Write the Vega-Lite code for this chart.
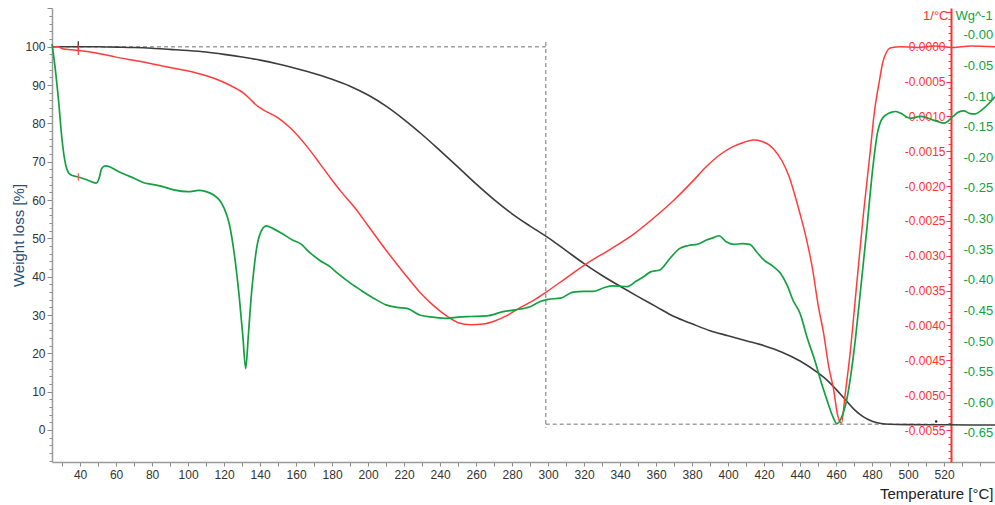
{
  "$schema": "https://vega.github.io/schema/vega-lite/v6.json",
  "width": 943,
  "height": 454,
  "autosize": {"type": "none"},
  "padding": {"left": 52, "top": 8, "right": 0, "bottom": 43},
  "background": "white",
  "config": {
    "view": {"stroke": null},
    "axis": {"grid": false, "labelFont": "Liberation Sans", "titleFont": "Liberation Sans", "labelOverlap": false, "labelFlush": false, "titleFontWeight": "normal"}
  },
  "datasets": {
    "box": [
      {"T": 24.4, "w": 100, "seg": "a"}, {"T": 298.7, "w": 100, "seg": "a"},
      {"T": 298.7, "w": 101.2, "seg": "b"}, {"T": 298.7, "w": 0.6, "seg": "b"},
      {"T": 298.7, "w": 1.5, "seg": "c"}, {"T": 515, "w": 1.5, "seg": "c"}
    ],
    "tga": [
      {"T": 24.4, "w": 100}, {"T": 30, "w": 100}, {"T": 40, "w": 100}, {"T": 50, "w": 100},
      {"T": 60, "w": 99.9}, {"T": 70, "w": 99.8}, {"T": 80, "w": 99.6}, {"T": 90, "w": 99.3},
      {"T": 100, "w": 99.0}, {"T": 110, "w": 98.6}, {"T": 120, "w": 98.0}, {"T": 130, "w": 97.3},
      {"T": 140, "w": 96.5}, {"T": 150, "w": 95.5}, {"T": 160, "w": 94.3}, {"T": 170, "w": 93.0},
      {"T": 180, "w": 91.5}, {"T": 190, "w": 89.7}, {"T": 200, "w": 87.4}, {"T": 210, "w": 84.5},
      {"T": 220, "w": 81.0}, {"T": 230, "w": 77.1}, {"T": 240, "w": 72.9}, {"T": 250, "w": 68.6},
      {"T": 260, "w": 64.2}, {"T": 270, "w": 60.1}, {"T": 280, "w": 56.4}, {"T": 290, "w": 53.2},
      {"T": 300, "w": 50.2}, {"T": 310, "w": 46.8}, {"T": 320, "w": 43.4}, {"T": 330, "w": 40.3},
      {"T": 340, "w": 37.5}, {"T": 350, "w": 34.8}, {"T": 360, "w": 32.2}, {"T": 370, "w": 29.6},
      {"T": 380, "w": 27.7}, {"T": 390, "w": 25.9}, {"T": 400, "w": 24.6}, {"T": 410, "w": 23.3},
      {"T": 420, "w": 22.0}, {"T": 430, "w": 20.3}, {"T": 440, "w": 18.0}, {"T": 450, "w": 14.9},
      {"T": 455, "w": 13.0}, {"T": 460, "w": 10.6}, {"T": 465, "w": 8.0}, {"T": 470, "w": 5.4},
      {"T": 475, "w": 3.5}, {"T": 480, "w": 2.3}, {"T": 485, "w": 1.7}, {"T": 490, "w": 1.5},
      {"T": 500, "w": 1.4}, {"T": 520, "w": 1.35}, {"T": 548.3, "w": 1.3}
    ],
    "dtg": [
      {"T": 24.4, "r": 0.0}, {"T": 28, "r": 0.0}, {"T": 30, "r": -0.00003}, {"T": 38, "r": -0.00005},
      {"T": 49, "r": -0.00009}, {"T": 60, "r": -0.00015}, {"T": 73, "r": -0.00021}, {"T": 90, "r": -0.0003},
      {"T": 105, "r": -0.00038}, {"T": 114, "r": -0.00045}, {"T": 123, "r": -0.00055}, {"T": 128, "r": -0.00062},
      {"T": 131, "r": -0.00067}, {"T": 134, "r": -0.00074}, {"T": 138, "r": -0.00084}, {"T": 142, "r": -0.00091},
      {"T": 150, "r": -0.00102}, {"T": 157, "r": -0.00117}, {"T": 166, "r": -0.00143}, {"T": 173, "r": -0.00167},
      {"T": 179, "r": -0.00188}, {"T": 185, "r": -0.00208}, {"T": 192, "r": -0.00229}, {"T": 200, "r": -0.00257},
      {"T": 210, "r": -0.00292}, {"T": 220, "r": -0.00325}, {"T": 229, "r": -0.00353}, {"T": 237, "r": -0.00373},
      {"T": 244, "r": -0.00387}, {"T": 250, "r": -0.00396}, {"T": 257, "r": -0.00399}, {"T": 264, "r": -0.00398},
      {"T": 270, "r": -0.00394}, {"T": 277, "r": -0.00386}, {"T": 284, "r": -0.00375}, {"T": 292, "r": -0.00364},
      {"T": 299, "r": -0.00352}, {"T": 310, "r": -0.00332}, {"T": 321, "r": -0.00312}, {"T": 335, "r": -0.0029},
      {"T": 347, "r": -0.0027}, {"T": 360, "r": -0.00243}, {"T": 370, "r": -0.0022}, {"T": 380, "r": -0.00194},
      {"T": 388, "r": -0.00172}, {"T": 396, "r": -0.00154}, {"T": 403, "r": -0.00143}, {"T": 409, "r": -0.00137},
      {"T": 414, "r": -0.00134}, {"T": 419, "r": -0.00136}, {"T": 425, "r": -0.00146}, {"T": 430, "r": -0.00164},
      {"T": 434, "r": -0.00187}, {"T": 437, "r": -0.00212}, {"T": 440, "r": -0.0024}, {"T": 443, "r": -0.0027},
      {"T": 447, "r": -0.0032}, {"T": 450, "r": -0.0037}, {"T": 453, "r": -0.0041}, {"T": 456, "r": -0.0046},
      {"T": 458.5, "r": -0.0049}, {"T": 461, "r": -0.0053}, {"T": 463, "r": -0.0054}, {"T": 465, "r": -0.005},
      {"T": 467.8, "r": -0.0044}, {"T": 471.5, "r": -0.0034}, {"T": 475.2, "r": -0.0024}, {"T": 479, "r": -0.0015},
      {"T": 481, "r": -0.001}, {"T": 484, "r": -0.0005}, {"T": 486, "r": -0.00022}, {"T": 488, "r": -0.00008},
      {"T": 490, "r": -0.00002}, {"T": 496, "r": 0.0}, {"T": 505, "r": -0.00001}, {"T": 515, "r": 0.00001},
      {"T": 525, "r": -0.00001}, {"T": 535, "r": 0.00001}, {"T": 548.3, "r": 0.0}
    ],
    "dsc": [
      {"T": 24.4, "g": -0.015}, {"T": 26, "g": -0.05}, {"T": 28, "g": -0.106}, {"T": 30, "g": -0.172},
      {"T": 32, "g": -0.212}, {"T": 34.5, "g": -0.228}, {"T": 39, "g": -0.232}, {"T": 44, "g": -0.237},
      {"T": 49, "g": -0.242}, {"T": 50.5, "g": -0.235}, {"T": 52, "g": -0.218}, {"T": 54, "g": -0.214},
      {"T": 57, "g": -0.216}, {"T": 60, "g": -0.221}, {"T": 65, "g": -0.228}, {"T": 70, "g": -0.234},
      {"T": 75, "g": -0.241}, {"T": 80, "g": -0.244}, {"T": 85, "g": -0.247}, {"T": 92, "g": -0.253},
      {"T": 100, "g": -0.256}, {"T": 106, "g": -0.254}, {"T": 110, "g": -0.256}, {"T": 114, "g": -0.261},
      {"T": 118, "g": -0.272}, {"T": 120, "g": -0.283}, {"T": 123, "g": -0.31}, {"T": 126, "g": -0.365},
      {"T": 128.5, "g": -0.43}, {"T": 130.5, "g": -0.495}, {"T": 132, "g": -0.545}, {"T": 133.5, "g": -0.49},
      {"T": 135, "g": -0.43}, {"T": 136.5, "g": -0.385}, {"T": 138, "g": -0.35}, {"T": 140, "g": -0.325},
      {"T": 143.5, "g": -0.312}, {"T": 147, "g": -0.316}, {"T": 152, "g": -0.324}, {"T": 158, "g": -0.335},
      {"T": 163, "g": -0.342}, {"T": 166, "g": -0.351}, {"T": 173, "g": -0.368}, {"T": 179, "g": -0.379},
      {"T": 183, "g": -0.389}, {"T": 190, "g": -0.405}, {"T": 196, "g": -0.417}, {"T": 203, "g": -0.43},
      {"T": 210, "g": -0.441}, {"T": 216, "g": -0.445}, {"T": 222, "g": -0.447}, {"T": 229, "g": -0.458},
      {"T": 236, "g": -0.461}, {"T": 244, "g": -0.463}, {"T": 250, "g": -0.461}, {"T": 257, "g": -0.46},
      {"T": 266, "g": -0.459}, {"T": 275, "g": -0.452}, {"T": 282, "g": -0.449}, {"T": 290, "g": -0.444},
      {"T": 296, "g": -0.435}, {"T": 300, "g": -0.432}, {"T": 307, "g": -0.43}, {"T": 314, "g": -0.42},
      {"T": 320, "g": -0.419}, {"T": 325, "g": -0.419}, {"T": 331, "g": -0.413}, {"T": 336, "g": -0.41},
      {"T": 344, "g": -0.411}, {"T": 349, "g": -0.402}, {"T": 353, "g": -0.395}, {"T": 357, "g": -0.387},
      {"T": 362, "g": -0.384}, {"T": 368, "g": -0.364}, {"T": 373, "g": -0.349}, {"T": 378, "g": -0.344},
      {"T": 383, "g": -0.342}, {"T": 388, "g": -0.335}, {"T": 392, "g": -0.331}, {"T": 395, "g": -0.328},
      {"T": 399, "g": -0.338}, {"T": 403, "g": -0.342}, {"T": 408, "g": -0.341}, {"T": 412, "g": -0.342},
      {"T": 416, "g": -0.355}, {"T": 420, "g": -0.368}, {"T": 425, "g": -0.378}, {"T": 429, "g": -0.389},
      {"T": 433, "g": -0.41}, {"T": 436, "g": -0.433}, {"T": 440, "g": -0.455}, {"T": 444, "g": -0.495},
      {"T": 448, "g": -0.53}, {"T": 452, "g": -0.57}, {"T": 455, "g": -0.597}, {"T": 458, "g": -0.622},
      {"T": 460.5, "g": -0.635}, {"T": 463, "g": -0.625}, {"T": 466, "g": -0.595}, {"T": 468, "g": -0.56},
      {"T": 471, "g": -0.49}, {"T": 473.5, "g": -0.42}, {"T": 477, "g": -0.32}, {"T": 480.5, "g": -0.215},
      {"T": 483, "g": -0.16}, {"T": 485, "g": -0.14}, {"T": 488, "g": -0.13}, {"T": 491, "g": -0.126},
      {"T": 493, "g": -0.125}, {"T": 496, "g": -0.128}, {"T": 501, "g": -0.136}, {"T": 507, "g": -0.133},
      {"T": 514, "g": -0.139}, {"T": 520, "g": -0.144}, {"T": 525, "g": -0.133}, {"T": 528, "g": -0.126},
      {"T": 531, "g": -0.124}, {"T": 534, "g": -0.128}, {"T": 537, "g": -0.129}, {"T": 542, "g": -0.12},
      {"T": 548.3, "g": -0.101}
    ],
    "marks_w": [{"T": 39, "a": 101.4, "b": 99.5}],
    "marks_r": [{"T": 39, "a": 0.00002, "b": -0.00012}],
    "marks_g": [{"T": 39, "a": -0.226, "b": -0.238}],
    "dot": [{"T": 515.6, "w": 2.2}]
  },
  "encoding": {
    "x": {
      "field": "T", "type": "quantitative",
      "scale": {"domain": [24.4, 548.3], "nice": false, "zero": false},
      "axis": {
        "values": [30,40,50,60,70,80,90,100,110,120,130,140,150,160,170,180,190,200,210,220,230,240,250,260,270,280,290,300,310,320,330,340,350,360,370,380,390,400,410,420,430,440,450,460,470,480,490,500,510,520,530,540],
        "labelExpr": "datum.value % 20 == 0 && datum.value >= 40 && datum.value <= 520 ? datum.label : ''",
        "title": "Temperature [°C]",
        "titleX": 941, "titleY": 31, "titleAlign": "right", "titleBaseline": "middle", "titleAnchor": null,
        "titleFontSize": 15, "titleColor": "#222222",
        "tickSize": 4, "tickColor": "#8a8a8a", "domainColor": "#9a9a9a", "domainWidth": 1.5,
        "labelFontSize": 12, "labelColor": "#333333", "labelPadding": 3
      }
    }
  },
  "resolve": {"scale": {"y": "independent"}},
  "layer": [
    {
      "data": {"name": "box"},
      "mark": {"type": "line", "color": "#a0a0a0", "strokeDash": [4, 3], "strokeWidth": 1.5},
      "encoding": {
        "y": {"field": "w", "type": "quantitative", "scale": {"domain": [-8.35, 110.1], "nice": false, "zero": false}, "axis": null},
        "detail": {"field": "seg"}
      }
    },
    {
      "data": {"name": "tga"},
      "mark": {"type": "line", "color": "#3c3c3c", "strokeWidth": 1.6, "interpolate": "monotone"},
      "encoding": {
        "y": {
          "field": "w", "type": "quantitative",
          "scale": {"domain": [-8.35, 110.1], "nice": false, "zero": false},
          "axis": {
            "orient": "left",
            "values": [-8,-6,-4,-2,0,2,4,6,8,10,12,14,16,18,20,22,24,26,28,30,32,34,36,38,40,42,44,46,48,50,52,54,56,58,60,62,64,66,68,70,72,74,76,78,80,82,84,86,88,90,92,94,96,98,100,102,104,106,108,110],
            "labelExpr": "datum.value % 10 == 0 && datum.value >= 0 && datum.value <= 100 ? datum.label : ''",
            "tickSize": {"condition": {"test": "datum.value % 10 == 0", "value": 5}, "value": 3},
            "tickColor": "#8a8a8a", "domainColor": "#9a9a9a", "domainWidth": 1.5,
            "labelColor": "#333333", "labelFontSize": 12, "labelPadding": 2,
            "title": "Weight loss [%]", "titleColor": "#1f4e79", "titleFontSize": 15,
            "titleAngle": -90, "titleX": -34, "titleY": 227, "titleAlign": "center", "titleBaseline": "middle"
          }
        }
      }
    },
    {
      "data": {"name": "dtg"},
      "mark": {"type": "line", "color": "#ff3c3c", "strokeWidth": 1.5, "interpolate": "monotone"},
      "encoding": {
        "y": {
          "field": "r", "type": "quantitative",
          "scale": {"domain": [-0.005959, 0.000555], "nice": false, "zero": false},
          "axis": {
            "orient": "left", "offset": -899,
            "values": [-0.0059,-0.0058,-0.0057,-0.0056,-0.0055,-0.0054,-0.0053,-0.0052,-0.0051,-0.005,-0.0049,-0.0048,-0.0047,-0.0046,-0.0045,-0.0044,-0.0043,-0.0042,-0.0041,-0.004,-0.0039,-0.0038,-0.0037,-0.0036,-0.0035,-0.0034,-0.0033,-0.0032,-0.0031,-0.003,-0.0029,-0.0028,-0.0027,-0.0026,-0.0025,-0.0024,-0.0023,-0.0022,-0.0021,-0.002,-0.0019,-0.0018,-0.0017,-0.0016,-0.0015,-0.0014,-0.0013,-0.0012,-0.0011,-0.001,-0.0009,-0.0008,-0.0007,-0.0006,-0.0005,-0.0004,-0.0003,-0.0002,-0.0001,0,0.0001,0.0002,0.0003,0.0004,0.0005],
            "labelExpr": "abs(round(datum.value*10000)) % 5 == 0 && datum.value < 0.00005 && datum.value > -0.00556 ? replace(format(datum.value, '.4f'), '−', '-') : ''",
            "tickSize": {"condition": {"test": "abs(round(datum.value*10000)) % 5 == 0", "value": 5}, "value": 3},
            "tickColor": "#ff3030", "domainColor": "#ff3030", "domainWidth": 2,
            "labelColor": "#ff3030", "labelFontSize": 12, "labelPadding": 1,
            "title": "1/°C", "titleColor": "#ff3030", "titleFontSize": 13,
            "titleAngle": 0, "titleX": -3, "titleY": 7, "titleAlign": "right", "titleBaseline": "middle"
          }
        }
      }
    },
    {
      "data": {"name": "dsc"},
      "mark": {"type": "line", "color": "#14a040", "strokeWidth": 1.7, "interpolate": "monotone"},
      "encoding": {
        "y": {
          "field": "g", "type": "quantitative",
          "scale": {"domain": [-0.6977, 0.0441], "nice": false, "zero": false},
          "axis": {
            "orient": "right", "offset": -44,
            "values": [0,-0.05,-0.1,-0.15,-0.2,-0.25,-0.3,-0.35,-0.4,-0.45,-0.5,-0.55,-0.6,-0.65],
            "labelExpr": "datum.value > -0.001 ? '-0.00' : replace(format(datum.value, '.2f'), '−', '-')",
            "domain": false, "ticks": false, "tickSize": 0,
            "labelColor": "#14a040", "labelFontSize": 13, "labelPadding": 12,
            "title": "Wg^-1", "titleColor": "#14a040", "titleFontSize": 13,
            "titleAngle": 0, "titleX": 4, "titleY": 7, "titleAlign": "left", "titleBaseline": "middle"
          }
        }
      }
    },
    {
      "data": {"name": "marks_w"},
      "mark": {"type": "rule", "color": "#222222", "strokeWidth": 1.2},
      "encoding": {
        "y": {"field": "a", "type": "quantitative", "scale": {"domain": [-8.35, 110.1], "nice": false, "zero": false}, "axis": null},
        "y2": {"field": "b"}
      }
    },
    {
      "data": {"name": "marks_r"},
      "mark": {"type": "rule", "color": "#ff3030", "strokeWidth": 1.2},
      "encoding": {
        "y": {"field": "a", "type": "quantitative", "scale": {"domain": [-0.005959, 0.000555], "nice": false, "zero": false}, "axis": null},
        "y2": {"field": "b"}
      }
    },
    {
      "data": {"name": "marks_g"},
      "mark": {"type": "rule", "color": "#ff5050", "strokeWidth": 1.2},
      "encoding": {
        "y": {"field": "a", "type": "quantitative", "scale": {"domain": [-0.6977, 0.0441], "nice": false, "zero": false}, "axis": null},
        "y2": {"field": "b"}
      }
    },
    {
      "data": {"name": "dot"},
      "mark": {"type": "circle", "color": "#222222", "size": 6, "opacity": 1},
      "encoding": {
        "y": {"field": "w", "type": "quantitative", "scale": {"domain": [-8.35, 110.1], "nice": false, "zero": false}, "axis": null}
      }
    }
  ]
}
